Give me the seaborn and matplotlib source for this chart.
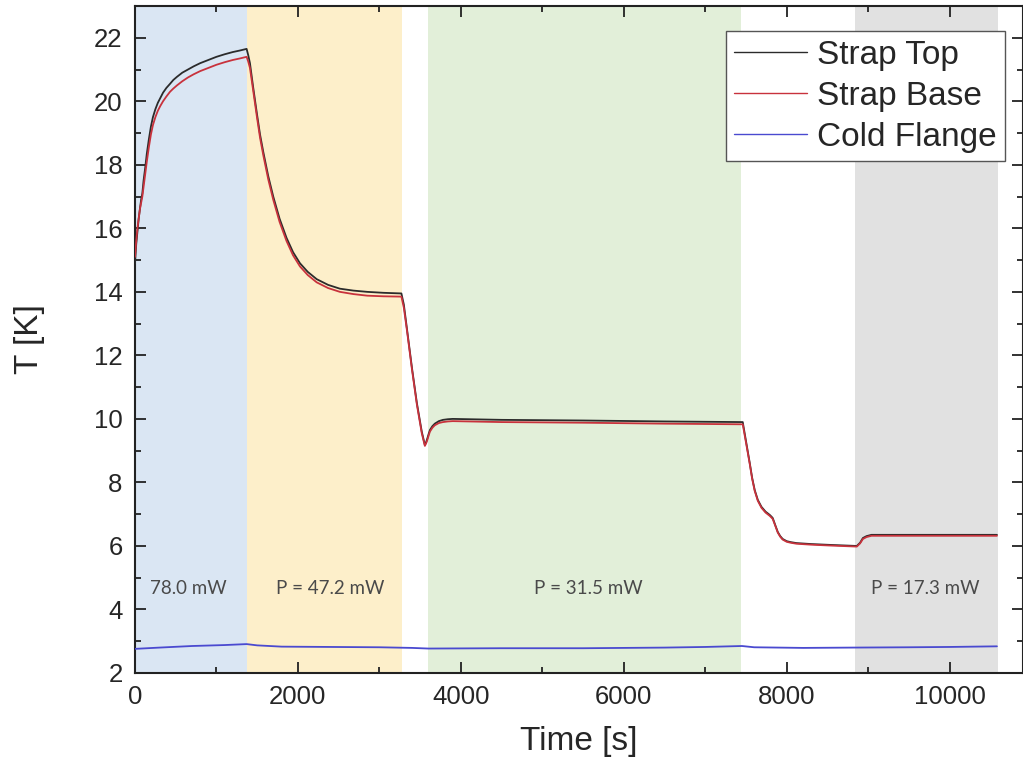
import matplotlib
matplotlib.use("Agg")
import matplotlib.pyplot as plt
from matplotlib.ticker import MultipleLocator
import seaborn as sns
import pandas as pd

# ---- data ----
top_t = [0, 15, 30, 45, 60, 75, 90, 105, 125, 145, 170, 195, 220, 250, 280, 310, 344, 385, 430, 470, 515,
         580, 650, 720, 800, 900, 1000, 1100, 1200, 1290, 1370,
         1390, 1411, 1450, 1497, 1535, 1575, 1635, 1697, 1775, 1860, 1940, 2025, 2120, 2230, 2370, 2515,
         2680, 2850, 3050, 3270,
         3300, 3340, 3400, 3460, 3520, 3558, 3575, 3590, 3605, 3620, 3650, 3680, 3730, 3780, 3840, 3900,
         4500, 5500, 6500, 7460,
         7500, 7546, 7575, 7607, 7645, 7690, 7740, 7790, 7810, 7828, 7860, 7890, 7920, 7950, 8000, 8050,
         8120, 8300, 8560, 8860, 8900, 8935, 8980, 9040, 9500, 10000, 10580]
top_T = [14.9, 15.5, 15.9, 16.3, 16.6, 16.9, 17.1, 17.5, 17.9, 18.35, 18.8, 19.2, 19.5, 19.75, 19.95, 20.1,
         20.27, 20.42, 20.55, 20.67, 20.77, 20.9, 21.0, 21.1, 21.2, 21.3, 21.4, 21.48, 21.55, 21.6, 21.65,
         21.45, 21.2, 20.45, 19.6, 18.95, 18.4, 17.65, 17.0, 16.3, 15.7, 15.25, 14.9, 14.63, 14.4, 14.22, 14.1,
         14.04, 14.0, 13.97, 13.95,
         13.6, 12.8, 11.6, 10.5, 9.6, 9.18, 9.28, 9.4, 9.53, 9.65, 9.77, 9.85, 9.93, 9.97, 9.99, 10.0,
         9.97, 9.95, 9.92, 9.9,
         9.3, 8.61, 8.15, 7.76, 7.45, 7.23, 7.08, 6.98, 6.93, 6.88, 6.65, 6.44, 6.31, 6.22, 6.15, 6.12,
         6.09, 6.06, 6.03, 6.0, 6.1, 6.25, 6.31, 6.35, 6.35, 6.35, 6.35]
base_T = [15.1, 15.6, 16.0, 16.3, 16.6, 16.8, 17.0, 17.3, 17.7, 18.1, 18.55, 18.95, 19.25, 19.5, 19.7, 19.85,
          20.0, 20.15, 20.3, 20.4, 20.5, 20.63, 20.75, 20.85, 20.95, 21.05, 21.15, 21.23, 21.3, 21.35, 21.4,
          21.25, 21.05, 20.35, 19.5, 18.85, 18.3, 17.55, 16.9, 16.2, 15.6, 15.15, 14.8, 14.53, 14.3, 14.12, 14.0,
          13.93, 13.88, 13.86, 13.85,
          13.5, 12.75, 11.55, 10.45, 9.55, 9.15, 9.24, 9.35, 9.48, 9.6, 9.72, 9.8, 9.87, 9.9, 9.92, 9.93,
          9.9, 9.88, 9.85, 9.83,
          9.25, 8.58, 8.12, 7.73, 7.42, 7.2, 7.05, 6.95, 6.9, 6.85, 6.63, 6.42, 6.29, 6.2, 6.13, 6.1,
          6.07, 6.04, 6.01, 5.98, 6.08, 6.22, 6.28, 6.32, 6.32, 6.32, 6.32]
flange_t = [0, 300, 700, 1100, 1370, 1500, 1800, 2400, 3000, 3400, 3600, 4500, 5500, 6500, 7000,
            7450, 7600, 8200, 8800, 9500, 10000, 10580]
flange_T = [2.76, 2.8, 2.85, 2.88, 2.91, 2.87, 2.83, 2.82, 2.81, 2.79, 2.77, 2.78, 2.78, 2.8, 2.82,
            2.85, 2.81, 2.79, 2.8, 2.81, 2.82, 2.84]

series_names = ["Strap Top", "Strap Base", "Cold Flange"]
series_colors = ["#2b2b2b", "#c8323c", "#4a4ad0"]

band_start = [0, 1370, 3600, 8840]
band_end = [1370, 3280, 7440, 10590]
band_colors = ["#dae6f3", "#fdefca", "#e2efd9", "#e1e1e1"]
band_labels = ["78.0 mW", "P = 47.2 mW", "P = 31.5 mW", "P = 17.3 mW"]
label_x = [660, 2400, 5560, 9700]
label_y = 4.65

df = pd.concat([
    pd.DataFrame({"Time": top_t, "T": top_T, "Sensor": series_names[0]}),
    pd.DataFrame({"Time": top_t, "T": base_T, "Sensor": series_names[1]}),
    pd.DataFrame({"Time": flange_t, "T": flange_T, "Sensor": series_names[2]}),
], ignore_index=True)

sns.set_style("ticks")
plt.rcParams["font.family"] = ["Liberation Sans", "DejaVu Sans"]

fig = plt.figure(figsize=(10.23, 7.72), dpi=100)
ax = fig.add_axes([135 / 1023, 1 - 673 / 772, 888 / 1023, 667 / 772])

for s, e, c in zip(band_start, band_end, band_colors):
    ax.axvspan(s, e, color=c, lw=0, zorder=0)
for x, t in zip(label_x, band_labels):
    ax.text(x, label_y, t, ha="center", va="center", fontsize=13.5,
            family=["Lato", "DejaVu Sans"], color="#4a4a4a")

sns.lineplot(data=df, x="Time", y="T", hue="Sensor", hue_order=series_names,
             palette=dict(zip(series_names, series_colors)), sort=False,
             estimator=None, lw=1.3, ax=ax, zorder=3)

ax.set_xlim(0, 10900)
ax.set_ylim(2, 23)
ax.xaxis.set_major_locator(MultipleLocator(2000))
ax.xaxis.set_minor_locator(MultipleLocator(1000))
ax.yaxis.set_major_locator(MultipleLocator(2))
ax.yaxis.set_minor_locator(MultipleLocator(1))
ax.tick_params(which="both", direction="in", top=True, right=True, width=1.3, color="#222222")
ax.tick_params(which="major", length=8, labelsize=18.5, pad=9)
ax.tick_params(which="minor", length=4.5)
for sp in ax.spines.values():
    sp.set_linewidth(1.5)
    sp.set_color("#222222")

ax.set_xlabel("Time [s]", fontsize=24, labelpad=12)
ax.set_ylabel("T [K]", fontsize=24, labelpad=35)

leg = ax.legend(loc="upper right", bbox_to_anchor=(0.98, 0.962), fontsize=24,
                frameon=True, fancybox=False, edgecolor="#555555", framealpha=1,
                handlelength=2.2, handletextpad=0.3, borderpad=0.25, labelspacing=0.3,
                borderaxespad=0.0)
leg.get_frame().set_linewidth(1.0)
for line in leg.get_lines():
    line.set_linewidth(1.0)

fig.savefig("out.png", dpi=100)
